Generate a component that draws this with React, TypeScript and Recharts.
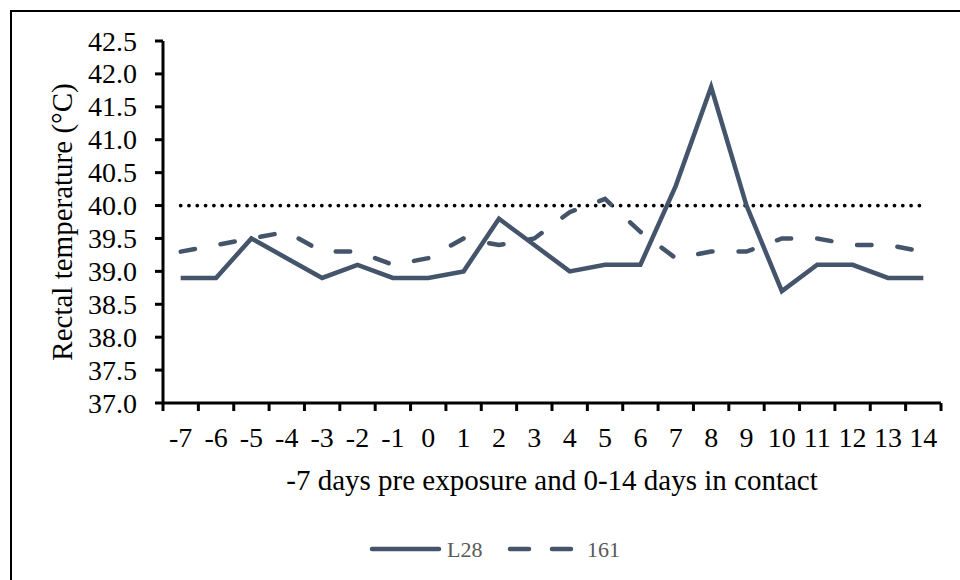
import React from 'react';
import { LineChart, Line, XAxis, YAxis, Legend, Label } from 'recharts';

// ---- data ----
const days = [-7, -6, -5, -4, -3, -2, -1, 0, 1, 2, 3, 4, 5, 6, 7, 8, 9, 10, 11, 12, 13, 14];
const l28 = [38.9, 38.9, 39.5, 39.2, 38.9, 39.1, 38.9, 38.9, 39.0, 39.8, 39.4, 39.0, 39.1, 39.1, 40.3, 41.8, 40.0, 38.7, 39.1, 39.1, 38.9, 38.9];
const s161 = [39.3, 39.4, 39.5, 39.6, 39.3, 39.3, 39.1, 39.2, 39.5, 39.4, 39.5, 39.9, 40.1, 39.6, 39.2, 39.3, 39.3, 39.5, 39.5, 39.4, 39.4, 39.3];
const threshold = 40.0;
const yTicks = [37.0, 37.5, 38.0, 38.5, 39.0, 39.5, 40.0, 40.5, 41.0, 41.5, 42.0, 42.5];
const seriesNames = ['L28', '161'];
const xTitle = '-7 days pre exposure and 0-14 days in contact';
const yTitle = 'Rectal temperature (°C)';

const rows = days.map((d, i) => ({ day: d, L28: l28[i], s161: s161[i], limit: threshold }));
// category boundaries (tick marks sit between the days)
const boundaryTicks = [days[0] - 0.5, ...days.map((d) => d + 0.5)];

// ---- layout / style ----
const COLOR = '#44546A';
const FONT = '"Liberation Serif", "Times New Roman", serif';
const W = 960;
const H = 580;
const M = { top: 41, right: 19, left: 0, bottom: 0 };
const Y_AXIS_W = 163;
const X_AXIS_H = H - M.top - 362;
const PLOT_W = W - M.left - Y_AXIS_W - M.right;
const STEP = PLOT_W / days.length;
const DASH = '14.5 26';
const serif = { fontFamily: FONT };

const XTick = (props: any) => {
  const { x, y, payload } = props;
  const v = payload.value;
  if (v >= days[days.length - 1]) return null;
  const label = String(Math.round(v + 0.5));
  return (
    <text x={x + STEP / 2} y={y} dy={35.5} textAnchor="middle" style={serif} fontSize={28} fill="#000">
      {label}
    </text>
  );
};

const YTick = (props: any) => {
  const { x, y, payload } = props;
  return (
    <text x={x} y={y} dy={9.5} textAnchor="end" style={serif} fontSize={28} fill="#000">
      {Number(payload.value).toFixed(1)}
    </text>
  );
};

const YTitle = (props: any) => {
  const vb = props.viewBox || { x: 0, y: 41, width: 163, height: 362 };
  const cx = 72;
  const cy = vb.y + vb.height / 2;
  return (
    <text x={cx} y={cy} transform={`rotate(-90, ${cx}, ${cy})`} textAnchor="middle" style={serif} fontSize={29} fill="#000">
      {yTitle}
    </text>
  );
};

const LegendContent = (props: any) => {
  const payload = ((props.payload || []) as any[]).filter((p) => p.dataKey !== 'limit' && p.type !== 'none');
  const starts = [370, 508];
  const lens = [71, 65];
  return (
    <svg width={W} height={40} style={{ display: 'block' }}>
      {payload.map((p, i) => {
        const x0 = starts[i] ?? 370 + i * 140;
        const len = lens[i] ?? 68;
        const dashed = i === 1;
        return (
          <g key={i}>
            <line
              x1={x0 + 2}
              x2={x0 + len - 2}
              y1={19}
              y2={19}
              stroke={COLOR}
              strokeWidth={4.5}
              strokeLinecap="round"
              strokeDasharray={dashed ? '19 23' : undefined}
            />
            <text x={x0 + len + (dashed ? 14 : 6)} y={26.7} style={serif} fontSize={22} fill="#595959">
              {seriesNames[i] ?? p.value}
            </text>
          </g>
        );
      })}
    </svg>
  );
};

export default function App() {
  return (
    <div style={{ position: 'fixed', left: 0, top: 0, width: W, height: H, overflow: 'hidden', background: '#fff', fontFamily: FONT }}>
      <div
        style={{
          position: 'absolute',
          left: 10,
          top: 10,
          width: 1000,
          height: 1000,
          borderTop: '2px solid #000',
          borderLeft: '2px solid #000',
        }}
      />
      <div style={{ position: 'absolute', left: 0, top: 0 }}>
        <LineChart width={W} height={H} data={rows} margin={M}>
          <XAxis
            dataKey="day"
            type="number"
            domain={[boundaryTicks[0], boundaryTicks[boundaryTicks.length - 1]]}
            ticks={boundaryTicks}
            interval={0}
            height={X_AXIS_H}
            tickSize={8}
            tickMargin={0}
            tick={<XTick />}
            axisLine={{ stroke: '#000', strokeWidth: 3 }}
            tickLine={{ stroke: '#000', strokeWidth: 3 }}
            allowDataOverflow
          >
            <Label value={xTitle} position="insideBottom" offset={90} style={{ fontFamily: FONT, fontSize: 29, fill: '#000' }} />
          </XAxis>
          <YAxis
            type="number"
            domain={[yTicks[0], yTicks[yTicks.length - 1]]}
            ticks={yTicks}
            interval={0}
            width={Y_AXIS_W}
            tickSize={8}
            tickMargin={18}
            tick={<YTick />}
            axisLine={{ stroke: '#000', strokeWidth: 3 }}
            tickLine={{ stroke: '#000', strokeWidth: 3 }}
            allowDataOverflow
          >
            <Label content={<YTitle />} />
          </YAxis>
          <Legend
            layout="vertical"
            align="center"
            verticalAlign="middle"
            wrapperStyle={{ top: 530, left: 0, width: W, height: 40 }}
            content={<LegendContent />}
          />
          <Line
            dataKey="limit"
            legendType="none"
            stroke="#000"
            strokeWidth={3.8}
            strokeDasharray="0 8.3"
            strokeLinecap="round"
            dot={false}
            activeDot={false}
            isAnimationActive={false}
          />
          <Line
            dataKey="s161"
            name="161"
            stroke={COLOR}
            strokeWidth={4.5}
            strokeDasharray={DASH}
            strokeLinecap="round"
            dot={false}
            activeDot={false}
            isAnimationActive={false}
          />
          <Line
            dataKey="L28"
            name="L28"
            stroke={COLOR}
            strokeWidth={4.5}
            dot={false}
            activeDot={false}
            isAnimationActive={false}
          />
        </LineChart>
      </div>
    </div>
  );
}
